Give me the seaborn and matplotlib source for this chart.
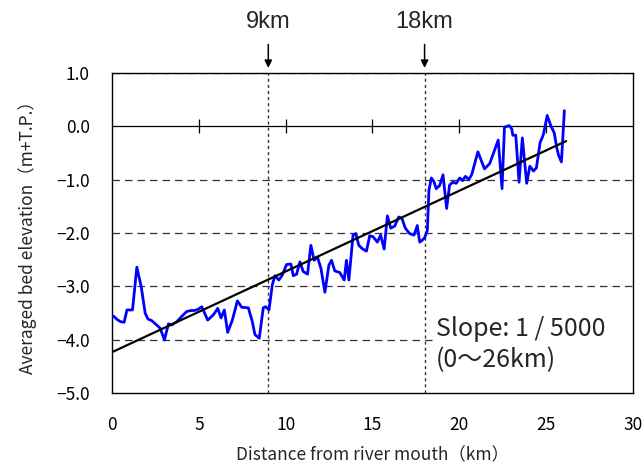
import matplotlib
matplotlib.use("Agg")
import matplotlib.pyplot as plt
from matplotlib.patches import Rectangle
import numpy as np
import pandas as pd
import seaborn as sns

# Averaged bed elevation along the river (distance in km, elevation in m+T.P.)
distance_km = [
    0.00, 0.10, 0.30, 0.50, 0.70, 0.86, 1.18, 1.43, 1.68, 1.91,
    2.07, 2.29, 2.53, 2.77, 3.02, 3.25, 3.44, 3.73, 4.02, 4.30,
    4.56, 4.75, 4.94, 5.17, 5.51, 5.84, 6.09, 6.28, 6.47, 6.66,
    6.93, 7.22, 7.47, 7.85, 8.08, 8.23, 8.48, 8.71, 8.85, 9.04,
    9.23, 9.38, 9.61, 9.80, 10.05, 10.30, 10.44, 10.63, 10.82, 11.01,
    11.26, 11.45, 11.64, 11.83, 12.03, 12.26, 12.49, 12.64, 12.83, 13.12,
    13.37, 13.50, 13.64, 13.88, 14.04, 14.21, 14.40, 14.65, 14.84, 15.03,
    15.28, 15.47, 15.67, 15.86, 16.05, 16.28, 16.51, 16.70, 16.89, 17.14,
    17.39, 17.58, 17.72, 17.85, 18.00, 18.16, 18.25, 18.39, 18.54, 18.67,
    18.87, 19.06, 19.27, 19.44, 19.63, 19.82, 20.03, 20.18, 20.35, 20.55,
    20.72, 21.07, 21.45, 21.75, 22.24, 22.46, 22.60, 22.87, 23.02, 23.08,
    23.25, 23.44, 23.63, 23.88, 24.06, 24.27, 24.44, 24.65, 24.84, 25.06,
    25.28, 25.47, 25.61, 25.72, 25.88, 26.05,
]
elevation_m = [
    -3.55, -3.56, -3.62, -3.66, -3.67, -3.44, -3.44, -2.64, -3.00, -3.50,
    -3.61, -3.64, -3.71, -3.78, -4.00, -3.70, -3.72, -3.66, -3.56, -3.47,
    -3.45, -3.45, -3.43, -3.38, -3.63, -3.53, -3.41, -3.59, -3.44, -3.86,
    -3.63, -3.27, -3.39, -3.40, -3.66, -3.90, -3.97, -3.40, -3.38, -3.44,
    -2.97, -2.80, -2.88, -2.79, -2.59, -2.58, -2.80, -2.77, -2.54, -2.72,
    -2.77, -2.23, -2.51, -2.45, -2.66, -3.11, -2.60, -2.51, -2.71, -2.74,
    -2.88, -2.51, -2.88, -2.04, -2.01, -2.23, -2.29, -2.34, -2.05, -2.07,
    -2.17, -2.04, -2.30, -1.68, -1.91, -1.87, -1.70, -1.73, -1.91, -2.01,
    -2.04, -1.86, -2.17, -2.14, -2.09, -1.95, -1.20, -0.97, -1.04, -1.17,
    -1.11, -0.91, -1.54, -1.10, -1.05, -1.07, -0.97, -1.02, -0.94, -1.00,
    -0.90, -0.48, -0.80, -0.70, -0.26, -1.17, -0.02, 0.01, -0.05, -0.17,
    -0.17, -1.05, -0.22, -1.07, -0.75, -0.84, -0.78, -0.31, -0.16, 0.20,
    0.00, -0.13, -0.40, -0.55, -0.67, 0.29,
]

# Linear trend over 0-26 km
trend_km = [0.0, 26.15]
trend_m = [-4.23, -0.28]

# Reference sections marked above the plot
marker_km = [9, 18]
marker_labels = ["9km", "18km"]

x_ticks = [0, 5, 10, 15, 20, 25, 30]
y_ticks = [-5.0, -4.0, -3.0, -2.0, -1.0, 0.0, 1.0]
grid_levels = [-4.0, -3.0, -2.0, -1.0, 1.0]

sns.set_theme(style="white")
plt.rcParams["font.family"] = ["Noto Sans CJK JP", "DejaVu Sans"]

fig = plt.figure(figsize=(6.43, 4.67), dpi=100)
ax = fig.add_axes([0.1742, 0.1578, 0.8102, 0.6865])

bed = pd.DataFrame({"km": distance_km, "z": elevation_m})
trend = pd.DataFrame({"km": trend_km, "z": trend_m})

for lvl in grid_levels:
    ax.axhline(lvl, color="#333333", lw=0.9, ls=(0, (6, 4)), zorder=1)
for xm in marker_km:
    ax.axvline(xm, color="#333333", lw=1.0, ls=(0, (2.2, 2.2)), zorder=1)

sns.lineplot(data=bed, x="km", y="z", ax=ax, color="#0000FF", lw=2.0,
             sort=False, estimator=None, zorder=3)
sns.lineplot(data=trend, x="km", y="z", ax=ax, color="black", lw=1.6,
             sort=False, estimator=None, zorder=4)

ax.set_xlim(0, 30)
ax.set_ylim(-5, 1)
ax.set_xticks(x_ticks)
ax.set_xticklabels([str(v) for v in x_ticks])
ax.set_yticks(y_ticks)
ax.set_yticklabels([f"{v:.1f}".replace("-", "\u2212") for v in y_ticks])
ax.tick_params(axis="both", length=0, labelsize=12.5, colors="black")
ax.tick_params(axis="x", pad=16)
ax.tick_params(axis="y", pad=16)

for side in ["left", "right", "top", "bottom"]:
    ax.spines[side].set_visible(True)
    ax.spines[side].set_color("black")
    ax.spines[side].set_linewidth(1.0)

# Horizontal axis line crossing at 0 m with cross-style tick marks
zero_axis = ax.secondary_xaxis(5 / 6)
zero_axis.set_xticks([5, 10, 15, 20, 25])
zero_axis.tick_params(direction="inout", length=10, width=0.9, colors="black",
                      labeltop=False, labelbottom=False)
zero_axis.spines["top"].set_linewidth(0.9)
zero_axis.spines["top"].set_color("black")

ax.set_xlabel("Distance from river mouth\uff08km\uff09", fontsize=12.5, labelpad=9)
ax.set_ylabel("Averaged bed elevation\uff08m+T.P.\uff09", fontsize=12.5, labelpad=14)

# Arrows and labels for the marked sections
for xm, lab in zip(marker_km, marker_labels):
    ax.annotate("", xy=(xm, 1.09), xytext=(xm, 1.53), annotation_clip=False,
                arrowprops=dict(arrowstyle="-|>", color="black", lw=1.1,
                                mutation_scale=11, shrinkA=0, shrinkB=0))
    ax.text(xm, 1.95, lab, ha="center", va="center", fontsize=17,
            family=["Liberation Sans", "DejaVu Sans"], clip_on=False)

# Slope note on a white panel
ax.add_patch(Rectangle((18.6, -4.65), 11.4, 1.15, facecolor="white",
                       edgecolor="none", zorder=2))
ax.text(18.65, -3.79, "Slope: 1 / 5000", fontsize=18, ha="left", va="center",
        zorder=5)
ax.text(18.65, -4.38, "(0\uff5e26km)", fontsize=18, ha="left", va="center",
        zorder=5)

fig.savefig("out.png", dpi=100)
